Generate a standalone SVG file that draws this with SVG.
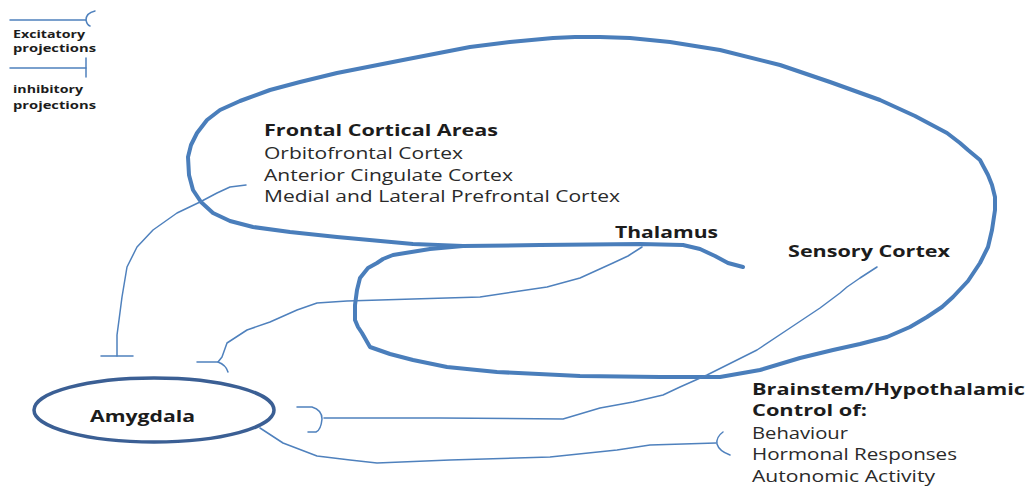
<svg xmlns="http://www.w3.org/2000/svg" width="1029" height="487" viewBox="0 0 1029 487">
  <style>
    .thick { fill: none; stroke: #4a7ebb; stroke-width: 4; stroke-linejoin: round; stroke-linecap: round; }
    .thin { fill: none; stroke: #4f81bd; stroke-width: 1.5; stroke-linejoin: round; stroke-linecap: round; }
    .lbl { font-family: "Open Sans", Lato, "Liberation Sans", sans-serif; fill: #1c1c1c; }
    .b { font-weight: bold; }
    .head { font-size: 15.5px; }
    .body { font-size: 15.5px; fill: #2a2a2a; }
    .legend { font-size: 10.5px; font-weight: bold; }
  </style>

  <!-- legend -->
  <g id="legend">
    <path class="thin" d="M10,20 L86,20" stroke-width="2.5"/>
    <path class="thin" d="M95,11 Q86,13 86,20 Q87,25 90,26" stroke-width="2.5"/>
    <text class="lbl legend" x="13" y="38" textLength="72" lengthAdjust="spacingAndGlyphs">Excitatory</text>
    <text class="lbl legend" x="13" y="52" textLength="83" lengthAdjust="spacingAndGlyphs">projections</text>
    <path class="thin" d="M10,68 L86,68" stroke-width="2.5"/>
    <path class="thin" d="M86,58 L86,77" stroke-width="2.5"/>
    <text class="lbl legend" x="13" y="93" textLength="70" lengthAdjust="spacingAndGlyphs">inhibitory</text>
    <text class="lbl legend" x="13" y="109" textLength="83" lengthAdjust="spacingAndGlyphs">projections</text>
  </g>

  <!-- brain outline: cortex loop and thalamic loop -->
  <g id="brain-outline">
    <path class="thick" d="M463,246 L430,249 L393,255 L383,259 L377,263 L368,268 L360,278 L357,290 L355,305 L355,320 L358,327 L362,333 L370,347 L390,354 L413,360 L447,367 L497,372 L580,376 L660,377 L720,377 L760,370 L800,358 L833,350 L860,344 L887,337 L910,327 L927,317 L942,307 L953,297 L968,281 L980,263 L988,247 L992,230 L995,210 L995,197 L992,185 L988,175 L980,160 L968,150 L960,143 L947,133 L915,116 L880,100 L830,82 L780,65 L720,50 L670,42 L630,38 L600,37 L575,37 L553,38 L510,42 L470,47 L403,60 L337,73 L300,82 L270,90 L240,101 L220,110 L207,120 L197,133 L191,145 L188,157 L189,175 L193,190 L201,202 L213,213 L230,221 L253,227 L290,232 L337,237 L413,244 L463,246 L540,245 L640,244 L683,245 L700,249 L715,256 L728,263 L743,267"/>
  </g>

  <!-- nodes -->
  <g id="frontal-cortical-areas">
    <text class="lbl b head" x="264" y="136" textLength="234" lengthAdjust="spacingAndGlyphs">Frontal Cortical Areas</text>
    <text class="lbl body" x="264" y="159" textLength="199" lengthAdjust="spacingAndGlyphs">Orbitofrontal Cortex</text>
    <text class="lbl body" x="264" y="181" textLength="249" lengthAdjust="spacingAndGlyphs">Anterior Cingulate Cortex</text>
    <text class="lbl body" x="264" y="202" textLength="356" lengthAdjust="spacingAndGlyphs">Medial and Lateral Prefrontal Cortex</text>
  </g>

  <g id="thalamus">
    <text class="lbl b head" x="615" y="238" textLength="103" lengthAdjust="spacingAndGlyphs">Thalamus</text>
  </g>

  <g id="sensory-cortex">
    <text class="lbl b head" x="788" y="257" textLength="162" lengthAdjust="spacingAndGlyphs">Sensory Cortex</text>
  </g>

  <g id="amygdala">
    <ellipse cx="154" cy="410" rx="120" ry="32" fill="none" stroke="#3b5f94" stroke-width="3.5"/>
    <text class="lbl b" x="90" y="422" font-size="16.5" textLength="105" lengthAdjust="spacingAndGlyphs">Amygdala</text>
  </g>

  <g id="brainstem-hypothalamic">
    <text class="lbl b head" x="752" y="395" textLength="273" lengthAdjust="spacingAndGlyphs">Brainstem/Hypothalamic</text>
    <text class="lbl b head" x="752" y="416" textLength="115" lengthAdjust="spacingAndGlyphs">Control of:</text>
    <text class="lbl body" x="752" y="439" textLength="96" lengthAdjust="spacingAndGlyphs">Behaviour</text>
    <text class="lbl body" x="752" y="460" textLength="205" lengthAdjust="spacingAndGlyphs">Hormonal Responses</text>
    <text class="lbl body" x="752" y="482" textLength="183" lengthAdjust="spacingAndGlyphs">Autonomic Activity</text>
  </g>

  <!-- projections -->
  <g id="connectors">
    <!-- frontal areas to amygdala (inhibitory) -->
    <path class="thin" d="M246,185 L230,187 L217,193 L200,202 L177,213 L153,230 L137,247 L127,267 L122,297 L119,320 L117,335 L117,356"/>
    <path class="thin" d="M101,356 L133,356"/>

    <!-- thalamus to amygdala (excitatory) -->
    <path class="thin" d="M642,247 L628,256 L613,263 L580,278 L547,287 L513,292 L480,297 L413,299 L347,301 L317,303 L297,310 L270,322 L247,330 L227,343 L222,357 L218,362"/>
    <path class="thin" d="M197,362 L218,362 Q226,365 228,372"/>

    <!-- sensory cortex to amygdala (excitatory) -->
    <path class="thin" d="M877,267 L860,278 L847,287 L840,293 L820,308 L790,328 L757,350 L723,367 L707,375 L680,387 L663,395 L633,402 L600,408 L563,419 L440,418 L324,418"/>
    <path class="thin" d="M297,407 L312,407 Q322,410 322,419 Q321,430 316,432 L308,432"/>

    <!-- amygdala to brainstem/hypothalamic control (excitatory) -->
    <path class="thin" d="M260,428 L283,443 L317,456 L350,460 L377,463 L450,460 L550,457 L617,450 L650,445 L716,443"/>
    <path class="thin" d="M723,432 Q716,437 717,444 Q719,451 730,455"/>
  </g>
</svg>
